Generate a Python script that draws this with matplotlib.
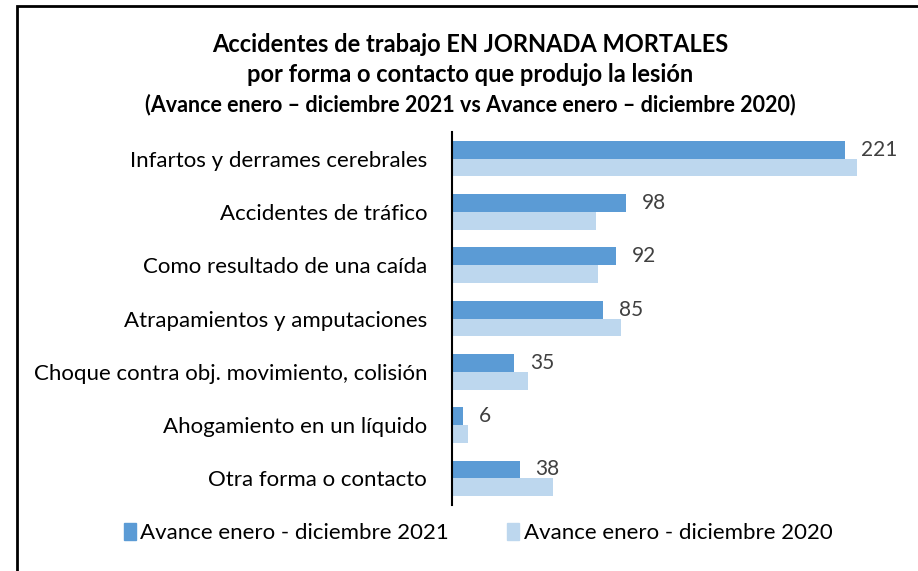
import matplotlib
matplotlib.use("Agg")
import matplotlib.pyplot as plt
from matplotlib.patches import Rectangle, Patch
import numpy as np

categories = ["Infartos y derrames cerebrales", "Accidentes de tráfico",
              "Como resultado de una caída", "Atrapamientos y amputaciones",
              "Choque contra obj. movimiento, colisión", "Ahogamiento en un líquido",
              "Otra forma o contacto"]
values_2021 = [221, 98, 92, 85, 35, 6, 38]
values_2020 = [228, 81, 82, 95, 43, 9, 57]
series_names = ["Avance enero - diciembre 2021", "Avance enero - diciembre 2020"]

plt.rcParams['font.family'] = ['Lato', 'DejaVu Sans']

W, H = 918, 571
fig = plt.figure(figsize=(W/100, H/100), dpi=100)

# outer frame (left and top visible)
fig.patches.append(Rectangle((17/W, -0.1), 2.0, 1 - 5.5/H + 0.1, transform=fig.transFigure,
                             fill=False, edgecolor='black', linewidth=2.0))

ax_left, ax_right = 452/W, 900/W
ax_top, ax_bot = 1 - 132/H, 1 - 505/H
ax = fig.add_axes([ax_left, ax_bot, ax_right - ax_left, ax_top - ax_bot])

n = len(categories)
y = np.arange(n)
h = 0.335
c21 = '#5B9BD5'
c20 = '#BDD7EE'
ax.barh(y - h/2, values_2021, height=h, color=c21, label=series_names[0])
ax.barh(y + h/2, values_2020, height=h, color=c20, label=series_names[1])

ax.set_xlim(0, (900 - 452) / 1.778)
ax.set_ylim(n - 0.5, -0.5)
ax.set_yticks(y)
ax.set_yticklabels(categories, fontsize=16, color='black')
ax.tick_params(axis='y', length=0, pad=18)
ax.set_xticks([])
for s in ['top', 'right', 'bottom']:
    ax.spines[s].set_visible(False)
ax.spines['left'].set_linewidth(1.5)

for yi, v in zip(y, values_2021):
    ax.annotate(str(v), (v, yi - h/2), xytext=(16, 0), textcoords='offset pixels',
                va='center', ha='left', fontsize=15, color='#404040')

fig.text(470/W, 1 - 45/H, "Accidentes de trabajo EN JORNADA MORTALES", ha='center', va='center',
         fontsize=17, fontweight='bold')
fig.text(470/W, 1 - 75/H, "por forma o contacto que produjo la lesión", ha='center', va='center',
         fontsize=17, fontweight='bold')
fig.text(470/W, 1 - 105/H, "(Avance enero – diciembre 2021 vs Avance enero – diciembre 2020)",
         ha='center', va='center', fontsize=15.5, fontweight='bold')

handles = [Patch(color=c21), Patch(color=c20)]
fig.legend(handles, series_names, loc='center', bbox_to_anchor=(478/W, 1 - 533/H), ncol=2,
           frameon=False, fontsize=16, handlelength=0.55, handleheight=0.85,
           handletextpad=0.2, columnspacing=2.6)

fig.savefig("out.png", dpi=100)
